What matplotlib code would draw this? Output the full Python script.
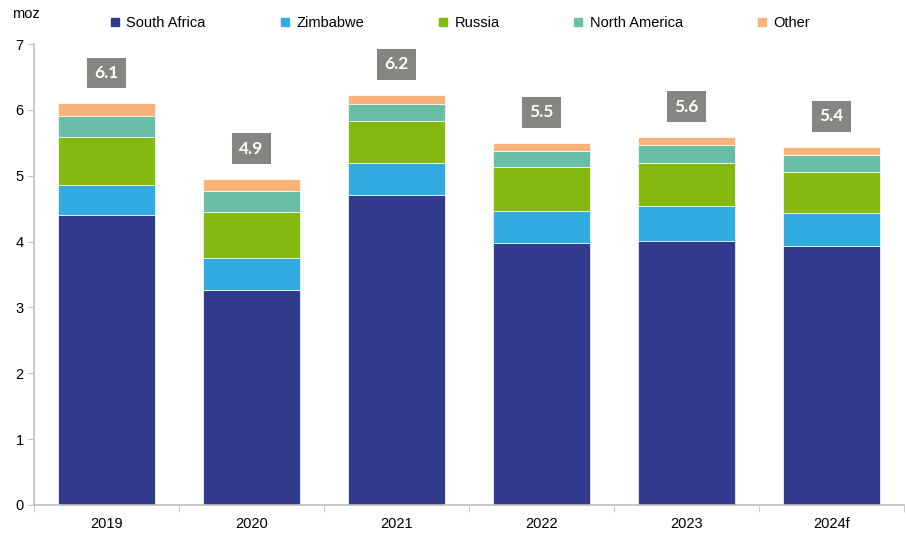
import matplotlib.pyplot as plt
from matplotlib.lines import Line2D
import numpy as np

plt.rcParams['font.family'] = ['Liberation Sans', 'DejaVu Sans']

years = ['2019', '2020', '2021', '2022', '2023', '2024f']
series_names = ['South Africa', 'Zimbabwe', 'Russia', 'North America', 'Other']
south_africa = [4.40, 3.26, 4.71, 3.98, 4.01, 3.93]
zimbabwe = [0.46, 0.49, 0.48, 0.49, 0.53, 0.51]
russia = [0.73, 0.70, 0.64, 0.66, 0.65, 0.61]
north_america = [0.32, 0.32, 0.26, 0.24, 0.28, 0.26]
other = [0.19, 0.18, 0.14, 0.13, 0.12, 0.13]
total_labels = ['6.1', '4.9', '6.2', '5.5', '5.6', '5.4']

colors = ['#323A8E', '#31ABE0', '#86B812', '#69BFA5', '#F7B37A']

fig = plt.figure(figsize=(9.06, 5.34), dpi=100)
ax = fig.add_axes([34 / 906, 29 / 534, 870 / 906, 461 / 534])

x = np.arange(len(years))
bottom = np.zeros(len(years))
for vals, col in zip([south_africa, zimbabwe, russia, north_america, other], colors):
    ax.bar(x, vals, width=0.67, bottom=bottom, color=col, edgecolor='white', linewidth=0.5)
    bottom += np.array(vals)

# grey total boxes
for xi, tot, lab in zip(x, bottom, total_labels):
    ax.text(xi, tot + 0.46, lab, ha='center', va='center', color='white',
            fontsize=12.5, fontweight='bold', family=['Lato', 'DejaVu Sans'],
            bbox=dict(boxstyle='square,pad=0.42', fc='#86857F', ec='none'))

ax.set_xlim(-0.5, len(years) - 0.5)
ax.set_ylim(0, 7)
ax.set_yticks(range(8))
ax.set_xticks(x)
ax.set_xticklabels(years, fontsize=10.5)
ax.set_xticks(np.arange(-0.5, len(years)), minor=True)
ax.tick_params(axis='x', which='major', length=0, pad=9)
ax.tick_params(axis='x', which='minor', length=5, color='#BFBFBF')
ax.tick_params(axis='y', length=4, color='#BFBFBF', labelsize=10.5)
for s in ['top', 'right']:
    ax.spines[s].set_visible(False)
for s in ['left', 'bottom']:
    ax.spines[s].set_color('#BFBFBF')
    ax.spines[s].set_linewidth(1.2)

fig.text(12 / 906, 1 - 14 / 534, 'moz', fontsize=10.5, va='center', ha='left')

handles = [Line2D([], [], marker='s', linestyle='none', markersize=6,
                  markerfacecolor=c, markeredgecolor=c) for c in colors]
fig.legend(handles, series_names, ncol=5, loc='center', bbox_to_anchor=(0.508, 1 - 23 / 534),
           frameon=False, fontsize=10.5, columnspacing=5.1, handlelength=0.6,
           handletextpad=0.5)

fig.savefig('out.png', dpi=100)
